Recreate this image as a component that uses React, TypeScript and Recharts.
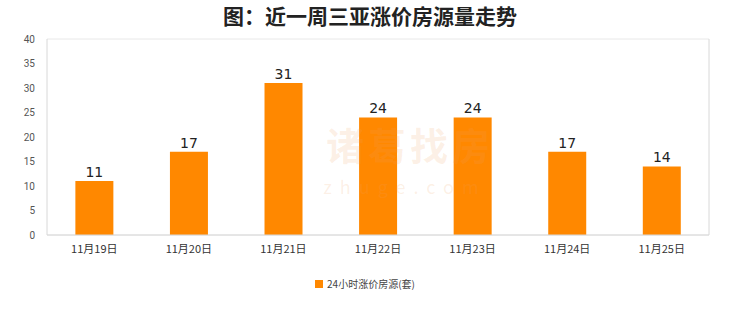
import { BarChart, Bar, XAxis, YAxis, CartesianGrid, Legend, LabelList } from 'recharts';

const days = ['11月19日', '11月20日', '11月21日', '11月22日', '11月23日', '11月24日', '11月25日'];
const counts = [11, 17, 31, 24, 24, 17, 14];
const yTicks = [0, 5, 10, 15, 20, 25, 30, 35, 40];

const data = days.map((day, i) => ({ day, count: counts[i] }));

const cjk = '"Noto Sans CJK SC", "Noto Sans", sans-serif';

const App = () => {
  return (
    <div style={{ position: 'absolute', left: 0, top: 0, width: 740, height: 312, background: '#fff' }}>
      <div
        style={{
          position: 'absolute',
          left: 0,
          top: 2,
          width: 740,
          textAlign: 'center',
          fontFamily: cjk,
          fontWeight: 700,
          fontSize: 21,
          lineHeight: '26px',
          color: '#222',
        }}
      >
        图：近一周三亚涨价房源量走势
      </div>
      <BarChart
        width={740}
        height={312}
        data={data}
        margin={{ top: 39, right: 1, left: 0, bottom: 29 }}
        barCategoryGap="30%"
      >
        <CartesianGrid vertical={false} stroke="#e8e8e8" />
        <XAxis
          dataKey="day"
          height={30}
          tickLine={false}
          axisLine={{ stroke: '#d8d8d8' }}
          tick={{ fill: '#333', fontSize: 11, fontFamily: cjk }}
          tickMargin={4}
        />
        <YAxis
          yAxisId="left"
          width={47}
          domain={[0, 40]}
          ticks={yTicks}
          tickLine={false}
          axisLine={{ stroke: '#d8d8d8' }}
          tick={{ fill: '#555', fontSize: 10, fontFamily: 'Roboto, sans-serif' }}
          tickMargin={6}
        />
        <YAxis
          yAxisId="right"
          orientation="right"
          width={30}
          domain={[0, 40]}
          ticks={yTicks}
          tick={false}
          tickLine={false}
          axisLine={{ stroke: '#d8d8d8' }}
        />
        <Legend
          verticalAlign="bottom"
          align="center"
          iconType="square"
          iconSize={8}
          wrapperStyle={{ top: 274, left: 0, width: 740 }}
          formatter={(value) => (
            <span style={{ color: '#444', fontSize: 10, fontFamily: cjk }}>{value}</span>
          )}
        />
        <Bar
          yAxisId="left"
          dataKey="count"
          name="24小时涨价房源(套)"
          fill="#FF8800"
          isAnimationActive={false}
        >
          <LabelList
            dataKey="count"
            position="top"
            offset={4}
            style={{ fill: '#222', fontSize: 14, fontFamily: '"DejaVu Sans", sans-serif' }}
          />
        </Bar>
      </BarChart>
      <div
        style={{
          position: 'absolute',
          left: 295,
          top: 125,
          width: 230,
          textAlign: 'center',
          fontFamily: cjk,
          fontSize: 38,
          fontWeight: 700,
          lineHeight: '38px',
          color: 'rgba(240, 160, 100, 0.16)',
          pointerEvents: 'none',
          letterSpacing: 4,
        }}
      >
        诸葛找房
      </div>
      <div
        style={{
          position: 'absolute',
          left: 290,
          top: 177,
          width: 230,
          textAlign: 'center',
          fontFamily: cjk,
          fontSize: 18,
          lineHeight: '18px',
          color: 'rgba(240, 160, 100, 0.16)',
          pointerEvents: 'none',
          letterSpacing: 8,
        }}
      >
        zhuge.com
      </div>
    </div>
  );
};

export default App;
